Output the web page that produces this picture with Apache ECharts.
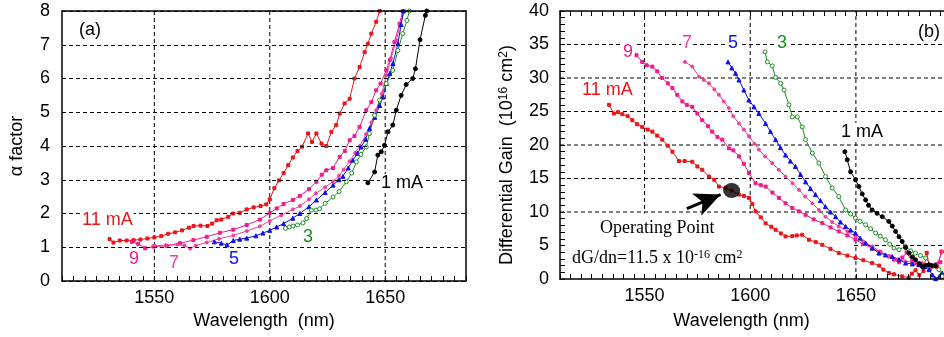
<!DOCTYPE html>
<html><head><meta charset="utf-8">
<script src="https://cdn.jsdelivr.net/npm/echarts@6/dist/echarts.min.js"></script>
<style>html,body{margin:0;padding:0;background:#fff}#c{width:944px;height:337px}</style>
</head><body><div id="c"></div>
<script>
// ---------- Panel (a): alpha factor ----------
const a11_wl = [1530.6,1532.3,1535,1538,1541,1544,1547,1550,1553,1556,1559,1562,1565,1567,1570,1573,1575,1577,1579,1582,1584,1587,1590,1593,1596,1598.5,1600,1602,1604,1606,1608,1610,1612,1614,1616.6,1618.3,1620.2,1622.4,1624.5,1626.7,1628.8,1630.3,1632.4,1634.6,1636.7,1638.9,1641.1,1642.5,1644,1646.1,1647.6];
const a11_val = [1.24,1.14,1.2,1.2,1.21,1.23,1.26,1.29,1.33,1.4,1.44,1.5,1.58,1.63,1.64,1.63,1.7,1.8,1.82,1.9,2.0,2.02,2.12,2.18,2.22,2.27,2.42,2.75,2.98,3.2,3.43,3.66,3.85,3.98,4.37,4.12,4.37,4.07,4.0,4.42,4.62,4.96,5.26,5.4,6.0,6.34,6.78,7.03,7.33,7.68,8.0];
const a9_wl = [1540.2,1543,1546,1549.6,1555.4,1561.1,1566.9,1572.7,1578.4,1584.2,1590,1595.7,1600,1603,1606,1610,1613,1617,1620.2,1622.5,1624.5,1627.4,1630.3,1632.5,1634.6,1636.7,1638.9,1641.8,1644,1646.1,1648,1650.5,1652,1654,1656.2,1657.6];
const a9_val = [1.16,1.1,0.97,1.02,1.04,1.12,1.21,1.31,1.43,1.52,1.66,1.82,2.02,2.15,2.28,2.4,2.52,2.72,2.94,3.15,3.28,3.35,3.68,3.85,4.17,4.3,4.56,5.06,5.3,5.65,5.85,6.24,6.55,7.08,7.62,8.0];
const a7_wl = [1550,1555,1560,1563,1565.5,1568,1572.7,1578,1584.2,1590,1595.7,1600,1605,1610,1613,1617,1620,1624,1627.4,1630,1632,1634.6,1637,1639,1641.7,1644,1646.1,1648.5,1650.5,1652.5,1654.8,1656.5,1658.4];
const a7_val = [1.05,1.06,1.08,1.05,0.96,1.05,1.14,1.25,1.35,1.48,1.62,1.78,1.95,2.12,2.22,2.42,2.6,2.78,2.95,3.12,3.3,3.55,3.8,4.0,4.35,4.7,5.06,5.55,6.1,6.6,7.13,7.6,8.0];
const a5_wl = [1576,1579,1581.5,1584.2,1587,1590,1594,1597,1600,1603,1606,1610,1613,1617,1620.2,1624,1627.4,1630,1631.7,1634,1636,1638,1639.6,1641.5,1643.2,1645.5,1647.6,1649,1650.5,1652,1653.3,1655.5,1656.9,1657.9];
const a5_val = [1.16,1.12,1.07,1.2,1.24,1.27,1.34,1.42,1.5,1.6,1.7,1.86,2.0,2.2,2.4,2.62,2.84,3.0,3.1,3.35,3.58,3.78,3.97,4.2,4.52,4.85,5.2,5.45,5.85,6.15,6.44,7.03,7.6,8.0];
const a3_wl = [1606.8,1608.5,1610.1,1612,1614.4,1616,1618,1620,1621.6,1624,1627.4,1630,1633.2,1635.5,1637.5,1639.5,1641.8,1643.2,1645.4,1647.6,1650.5,1653.3,1655.5,1657.6,1659.4,1660.5];
const a3_val = [1.56,1.6,1.63,1.66,1.72,1.85,2.1,2.1,2.14,2.3,2.49,2.65,2.94,3.2,3.53,3.75,3.97,4.37,4.91,5.36,5.85,6.24,6.83,7.33,7.72,8.0];
const a1_wl = [1642.5,1645.4,1646.8,1648.3,1649.7,1651.2,1653.3,1654.8,1656.9,1659.1,1661.9,1663.1,1665.1,1667.4,1668];
const a1_val = [2.91,3.23,3.73,3.83,4.02,4.42,4.62,5.06,5.5,5.82,6.0,6.29,7.15,7.87,8.0];

// ---------- Panel (b): differential gain ----------
const b11_wl = [1533.2,1535.5,1537.5,1539.5,1542,1544.2,1546.5,1548.9,1551.5,1553.7,1556,1558.4,1561,1563.2,1566.3,1569,1572.6,1575,1577.3,1580.5,1583,1585.2,1588.3,1591.2,1594.7,1597,1599.4,1601,1602.5,1605,1607.3,1610,1612,1614.5,1616.7,1619.9,1622,1624.6,1627.8,1631,1634.1,1638,1641.9,1646,1649.8,1653.5,1657.7,1661,1663,1665.6,1668,1671.9,1675,1676.5,1678.2,1680,1682,1683.5,1685,1687,1688.5,1690.5];
const b11_val = [26.0,24.7,24.9,24.6,24.3,23.7,23.1,22.7,22.3,22.0,21.4,20.8,19.9,19.0,17.6,17.6,17.5,16.8,16.3,15.3,14.8,13.8,13.6,13.2,12.6,12.4,12.1,11.2,10.1,9.2,8.3,7.8,7.35,6.8,6.35,6.4,6.5,6.6,5.86,5.5,5.11,4.5,3.87,3.5,3.13,2.8,2.38,2.0,1.4,0.9,0.7,0.39,0.2,0.8,1.3,0.6,1.2,3.9,1.5,2.0,1.8,4.1];
const b9_wl = [1546.2,1548.9,1551,1553.7,1556,1558.4,1561,1563.2,1565.5,1567.9,1570,1572.6,1575,1577.3,1580,1582,1584.5,1586.8,1589.9,1592,1594.7,1597,1599.4,1602.5,1605,1607.3,1610.5,1613.6,1616.7,1619.9,1623,1626.2,1630,1634.1,1638,1641.9,1646,1649.8,1653.5,1657.7,1661.5,1665.6,1668,1670.4,1672,1674,1676.7,1679,1681.4,1684,1686.1,1688,1690];
const b9_val = [33.4,32.4,31.9,31.7,31.0,30.0,29.2,28.5,27.5,26.5,26.0,25.7,24.7,23.7,22.8,22.0,21.2,20.8,19.5,19.2,18.3,17.2,15.8,14.3,14.0,13.8,12.9,12.1,11.3,10.6,10.1,9.58,8.9,8.35,7.7,7.1,6.5,5.86,5.2,4.62,4.0,3.37,2.9,2.5,3.2,3.97,2.62,2.3,2.13,2.0,1.88,2.2,2.5];
const b7_wl = [1569.1,1572.6,1575.8,1578,1580.5,1583,1585.2,1587.5,1589.9,1592,1594.7,1597,1599.4,1602,1604.1,1607,1610.4,1613.5,1616.7,1620,1623.1,1626,1629.4,1632.5,1635.6,1638.8,1641.9,1646,1649.8,1653.5,1657.7,1661.5,1665.6,1669.5,1673.5,1677.5,1681.4,1685,1688,1691];
const b7_val = [32.4,31.7,30.2,29.7,29.2,28.3,27.5,26.5,25.5,24.3,23.2,22.3,21.3,20.2,19.3,18.3,17.3,16.3,15.3,14.3,13.3,12.3,11.3,10.3,9.3,8.5,7.84,7.1,6.35,5.6,4.86,4.1,3.37,2.9,2.62,2.5,2.38,2.1,2.0,4.1];
const b5_wl = [1589.5,1591.3,1593.1,1594.7,1597,1599.4,1601.8,1604.1,1607.3,1609.6,1612,1614.3,1616.7,1619,1621.4,1623.8,1626.2,1628.5,1630.9,1633.2,1635.6,1638,1640.4,1642.7,1645.1,1647.5,1649.8,1652,1654.6,1657.7,1660.9,1664,1667.2,1670.4,1673.5,1676.7,1679.8,1682,1684.6,1686.3,1687.7,1689.5,1690.8];
const b5_val = [32.4,31.5,30.7,29.7,28.2,26.7,25.7,24.7,23.2,22.0,20.8,19.6,18.5,17.6,16.8,15.6,14.5,13.5,12.6,11.7,10.8,10.0,9.3,8.5,7.84,7.3,6.86,6.1,5.37,4.6,3.87,3.6,3.37,2.9,2.38,2.25,2.13,1.8,1.39,0.6,0.05,0.4,0.89];
const b3_wl = [1607,1608.1,1610.4,1612,1614.4,1616,1618.3,1619.9,1622.3,1624.6,1626.2,1629.4,1632.5,1635.6,1638.8,1641.9,1645.1,1647.5,1649.8,1652,1654.6,1657,1659.3,1661.5,1664,1666,1668,1670.4,1673.5,1676,1678.2,1680.5,1683,1686.1,1689.3,1690.8];
const b3_val = [33.9,32.4,31.8,30.1,29.2,28.2,26.0,24.2,24.2,22.7,20.8,18.8,17.3,15.3,13.6,12.3,10.3,9.7,9.1,8.6,8.1,7.5,6.86,6.4,5.86,5.2,4.62,4.37,4.86,4.2,3.87,3.5,3.13,1.88,1.39,0.39];
const b1_wl = [1644.8,1645.9,1647.5,1649.8,1651.4,1653,1654.6,1656,1657.7,1660,1662.5,1665.6,1667.2,1668.8,1670.4,1671.9,1673.5,1675.1,1676.7,1678.2,1680,1681.4,1683,1684.6,1686,1687.7];
const b1_val = [19.0,17.8,16.0,14.8,13.8,12.7,11.8,11.0,10.3,9.8,9.3,8.6,7.9,7.1,6.3,5.6,4.7,3.87,3.3,2.88,2.3,1.88,2.0,2.13,2.0,1.98];

const opPoint = [1591.2, 13.2];          // operating point (b)
const arrowFrom = [1570, 10.5], arrowTo = [1586, 12.6];
const gridX = [1550, 1600, 1650];
const gridYb = [5, 10, 15, 20, 25, 30, 35];
const xTickLabels = [1550, 1600, 1650];
const xRangeA = [1510, 1685], xRangeB = [1510, 1695];

const C = {r:'#e8161b', p9:'#ec1c8c', p7:'#f23d9c', b:'#1010e8', g:'#1f8c23', k:'#000'};
const SANS = 'Liberation Sans, Arial, sans-serif';
const SERIF = 'Liberation Serif, Times New Roman, serif';
const DASH = {color:'#000', width:1, type:[4,3]};

function curve(wl, val, gi, color, symbol, size, filled) {
  return {type:'line', xAxisIndex:gi, yAxisIndex:gi, z:3, data: wl.map((x,i)=>[x,val[i]]),
    symbol, symbolSize:size, showSymbol:true, showAllSymbol:true, animation:false,
    lineStyle:{color, width:1}, itemStyle:{color: filled===false ? '#fff' : color, borderColor:color, borderWidth:1},
    silent:true};
}
// dashed reference grid lines drawn as plain line series (below the curves)
function gridLine(gi, pts) {
  return {type:'line', xAxisIndex:gi, yAxisIndex:gi, z:1, data:pts, symbol:'none', showSymbol:false,
    lineStyle:DASH, silent:true, animation:false};
}
function xAxisMain(gi, range, name, pad) {
  return {type:'value', gridIndex:gi, position:'bottom', min:range[0], max:range[1], interval:5, z:5,
    axisLine:{show:true, onZero:false, lineStyle:{color:'#000', width:1.5}},
    axisTick:{show:true, inside:true, length:5, lineStyle:{color:'#000', width:1}},
    axisLabel:{show:true, margin:8, color:'#000', fontSize:18, fontFamily:SANS,
      formatter:v => xTickLabels.includes(v) ? String(v) : ''},
    splitLine:{show:false}, name, nameLocation:'middle', nameGap:28,
    nameTextStyle:{color:'#000', fontSize:18, fontFamily:SANS, padding:pad}};
}
function xAxisTop(gi, range, ticks) {
  return {type:'value', gridIndex:gi, position:'top', min:range[0], max:range[1], interval:5, z:5,
    axisLine:{show:true, onZero:false, lineStyle:{color:'#000', width:1.5}},
    axisTick:{show:ticks, inside:true, length:5, lineStyle:{color:'#000', width:1}},
    axisLabel:{show:false}, splitLine:{show:false}};
}

const series = [];
gridX.forEach(v => series.push(gridLine(0, [[v,0],[v,8]])));
gridX.forEach(v => series.push(gridLine(1, [[v,0],[v,40]])));
gridYb.forEach(v => series.push(gridLine(1, [[xRangeB[0],v],[xRangeB[1],v]])));
series.push({type:'line', xAxisIndex:1, yAxisIndex:1, z:2, data:[[1600,20]], symbol:'none', lineStyle:{opacity:0}, silent:true,
  markArea:{silent:true, z:2, itemStyle:{color:'#fff'}, label:{show:false},
    data:[[{coord:[1510,0]},{coord:[1648,9.8]}]]}});
series.push(
  curve(a11_wl, a11_val, 0, C.r, 'rect', 3),
  curve(a9_wl, a9_val, 0, C.p9, 'rect', 3),
  curve(a7_wl, a7_val, 0, C.p7, 'circle', 3),
  curve(a5_wl, a5_val, 0, C.b, 'triangle', 4),
  curve(a3_wl, a3_val, 0, C.g, 'circle', 4, false),
  curve(a1_wl, a1_val, 0, C.k, 'circle', 4),
  curve(b11_wl, b11_val, 1, C.r, 'rect', 3),
  curve(b9_wl, b9_val, 1, C.p9, 'rect', 3),
  curve(b7_wl, b7_val, 1, C.p7, 'circle', 3),
  curve(b5_wl, b5_val, 1, C.b, 'triangle', 4),
  curve(b3_wl, b3_val, 1, C.g, 'circle', 4, false),
  curve(b1_wl, b1_val, 1, C.k, 'circle', 4),
  {type:'scatter', xAxisIndex:1, yAxisIndex:1, z:4, data:[opPoint], symbol:'circle', symbolSize:[17,15],
    itemStyle:{color:'#000'}, silent:true,
    markLine:{silent:true, z:4, symbol:['none','arrow'], symbolSize:[18,26], label:{show:false},
      lineStyle:{color:'#000', width:3, type:'solid'},
      data:[[{coord:arrowFrom},{coord:arrowTo}]]}}
);

const option = {
  animation:false,
  backgroundColor:'#fff',
  grid:[
    {left:62, right:478, top:11, bottom:56, outerBoundsMode:'none', containLabel:false},
    {left:560, right:-7, top:11, bottom:58, outerBoundsMode:'none', containLabel:false}
  ],
  xAxis:[
    xAxisMain(0, xRangeA, 'Wavelength  (nm)', [0,0,0,0]),
    xAxisMain(1, xRangeB, 'Wavelength (nm)', [5,28,0,0]),
    xAxisTop(0, xRangeA, false),
    xAxisTop(1, xRangeB, true)
  ],
  yAxis:[
    {type:'value', gridIndex:0, min:0, max:8, interval:1, z:5,
      axisLine:{show:true, onZero:false, lineStyle:{color:'#000', width:1.5}},
      axisTick:{show:false}, axisLabel:{color:'#000', fontSize:18, fontFamily:SANS, margin:12},
      splitLine:{show:true, lineStyle:DASH}, name:'α factor', nameLocation:'middle', nameRotate:90, nameGap:36,
      nameTextStyle:{color:'#000', fontSize:18, fontFamily:SANS}},
    {type:'value', gridIndex:1, min:0, max:40, interval:5, z:5,
      axisLine:{show:true, onZero:false, lineStyle:{color:'#000', width:1.5}},
      axisTick:{show:true, inside:true, length:5, lineStyle:{color:'#000'}},
      minorTick:{show:true, splitNumber:5, length:5, lineStyle:{color:'#000'}},
      axisLabel:{color:'#000', fontSize:18, fontFamily:SANS, margin:11},
      splitLine:{show:false}, name:'Differential Gain  (10{s|16} cm{s|2})', nameLocation:'middle', nameRotate:90, nameGap:44,
      nameTextStyle:{color:'#000', fontSize:18, fontFamily:SANS, padding:[0,20,0,0],
        rich:{s:{fontSize:12, fontFamily:SANS, color:'#000', verticalAlign:'top', padding:[0,0,6,0]}}}},
    {type:'value', gridIndex:0, position:'right', min:0, max:8, z:5,
      axisLine:{show:true, onZero:false, lineStyle:{color:'#000', width:1.5}},
      axisTick:{show:false}, axisLabel:{show:false}, splitLine:{show:false}}
  ],
  series
};

function txt(x, y, s, color, font) {
  return {type:'text', x, y, z:10, silent:true,
    style:{text:s, fill:color, font, align:'left', verticalAlign:'middle', backgroundColor:'#fff', padding:[0,1]}};
}
const F = '18px ' + SANS, FS = '18px ' + SERIF;
option.graphic = [
  txt(78, 30, '(a)', '#000', F),
  txt(81, 220, '11 mA', C.r, F),
  txt(128, 259, '9', C.p9, F),
  txt(168, 263, '7', C.p7, F),
  txt(228, 259, '5', C.b, F),
  txt(302, 237, '3', C.g, F),
  txt(380, 183, '1 mA', '#000', F),
  txt(917, 32, '(b)', '#000', F),
  txt(622, 52, '9', C.p9, F),
  txt(681, 43, '7', C.p7, F),
  txt(727, 43, '5', C.b, F),
  txt(776, 43, '3', C.g, F),
  txt(581, 90, '11 mA', C.r, F),
  txt(840, 132, '1 mA', '#000', F),
  {type:'text', x:600, y:228, z:10, silent:true, style:{text:'Operating Point', fill:'#000', font:FS, align:'left', verticalAlign:'middle'}},
  {type:'text', x:572, y:258, z:10, silent:true, style:{text:'dG/dn=11.5 x 10{s|-16} cm{s|2}', fill:'#000', font:FS, align:'left', verticalAlign:'middle',
    rich:{s:{font:'12px ' + SERIF, fill:'#000', verticalAlign:'top', padding:[0,0,6,0]}}}}
];

const chart = echarts.init(document.getElementById('c'), null, {renderer:'canvas'});
chart.setOption(option);
</script></body></html>
